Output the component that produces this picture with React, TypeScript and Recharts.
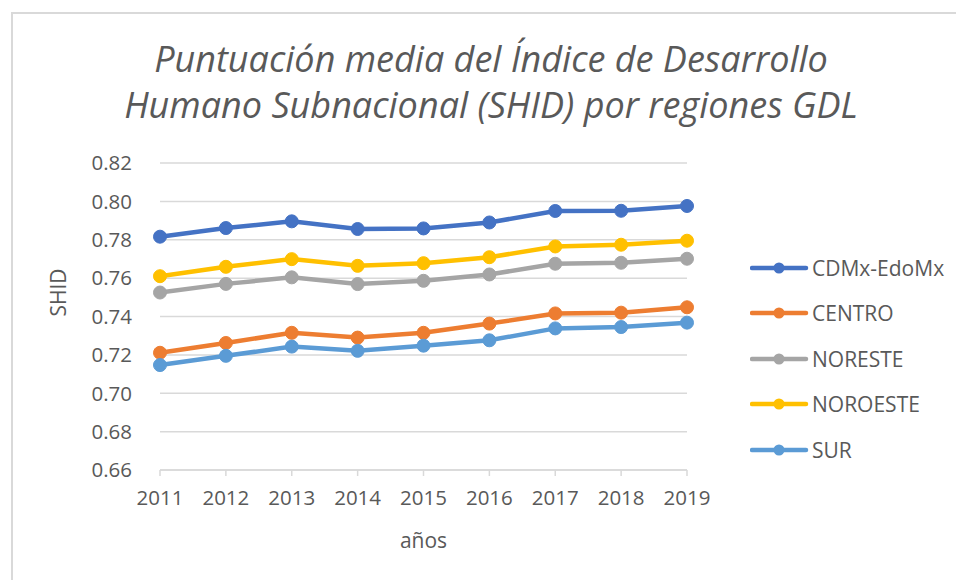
import { LineChart, Line, XAxis, YAxis, CartesianGrid } from "recharts";

const years = ["2011", "2012", "2013", "2014", "2015", "2016", "2017", "2018", "2019"];
const cdmx = [0.7816, 0.7861, 0.7896, 0.7856, 0.7859, 0.789, 0.795, 0.7951, 0.7976];
const centro = [0.7211, 0.7262, 0.7315, 0.729, 0.7315, 0.7363, 0.7416, 0.742, 0.7448];
const noreste = [0.7525, 0.757, 0.7604, 0.7569, 0.7586, 0.7619, 0.7675, 0.768, 0.7701];
const noroeste = [0.761, 0.7659, 0.7699, 0.7664, 0.7678, 0.7709, 0.7765, 0.7774, 0.7795];
const sur = [0.7147, 0.7195, 0.7243, 0.7221, 0.7248, 0.7276, 0.7338, 0.7345, 0.7368];
const yTicks = [0.66, 0.68, 0.7, 0.72, 0.74, 0.76, 0.78, 0.8, 0.82];

const series = [
  { key: "cdmx", name: "CDMx-EdoMx", color: "#4472C4", values: cdmx },
  { key: "centro", name: "CENTRO", color: "#ED7D31", values: centro },
  { key: "noreste", name: "NORESTE", color: "#A5A5A5", values: noreste },
  { key: "noroeste", name: "NOROESTE", color: "#FFC000", values: noroeste },
  { key: "sur", name: "SUR", color: "#5B9BD5", values: sur },
];

const data = years.map((year, i) => {
  const row: Record<string, string | number> = { year };
  series.forEach((s) => (row[s.key] = s.values[i]));
  return row;
});

const font = "'Open Sans', sans-serif";
const textColor = "#595959";
const tickStyle = { fill: textColor, fontSize: 20.5, fontFamily: font };

// legend sits to the right of the plot, like the Excel original
function LegendList() {
  return (
    <div style={{ position: "absolute", left: 750, top: 245, fontFamily: font }}>
      {series.map((s) => (
        <div key={s.key} style={{ display: "flex", alignItems: "center", height: 45.5 }}>
          <svg width={62} height={16}>
            <line x1={2} y1={8} x2={56} y2={8} stroke={s.color} strokeWidth={4.5} strokeLinecap="round" />
            <circle cx={29} cy={8} r={5.5} fill={s.color} />
          </svg>
          <span style={{ color: textColor, fontSize: 21 }}>{s.name}</span>
        </div>
      ))}
    </div>
  );
}

export default function App() {
  return (
    <div style={{ position: "absolute", left: 0, top: 0, width: 956, height: 580, background: "#fff" }}>
      <div
        style={{
          position: "absolute",
          left: 11,
          top: 12,
          width: 960,
          height: 600,
          border: "2px solid #d9d9d9",
          boxSizing: "border-box",
        }}
      />
      <div
        style={{
          position: "absolute",
          left: 0,
          top: 36,
          width: 982,
          textAlign: "center",
          fontFamily: font,
          fontStyle: "italic",
          fontSize: 36,
          lineHeight: "46px",
          color: textColor,
        }}
      >
        Puntuación media del Índice de Desarrollo
        <br />
        Humano Subnacional (SHID) por regiones GDL
      </div>
      <LineChart
        width={956}
        height={580}
        data={data}
        margin={{ top: 163, right: 269, bottom: 30, left: 40 }}
        style={{ position: "absolute", left: 0, top: 0 }}
      >
        <CartesianGrid vertical={false} stroke="#d9d9d9" strokeWidth={1.5} />
        <XAxis
          dataKey="year"
          interval={0}
          tick={tickStyle}
          stroke="#d9d9d9"
          strokeWidth={1.5}
          tickSize={6}
          tickMargin={14}
          height={80}
          label={{ value: "años", position: "insideBottom", offset: 2, fill: textColor, fontSize: 21, fontFamily: font }}
        />
        <YAxis
          domain={[0.66, 0.82]}
          ticks={yTicks}
          tickFormatter={(v: number) => v.toFixed(2)}
          tick={tickStyle}
          axisLine={false}
          tickLine={false}
          tickMargin={22}
          width={120}
          label={{ value: "SHID", angle: -90, position: "insideLeft", offset: 19, fill: textColor, fontSize: 21, fontFamily: font }}
        />
        {series.map((s) => (
          <Line
            key={s.key}
            type="linear"
            dataKey={s.key}
            name={s.name}
            stroke={s.color}
            strokeWidth={4.5}
            dot={{ r: 6.5, fill: s.color, stroke: s.color, strokeWidth: 1 }}
            activeDot={false}
            isAnimationActive={false}
          />
        ))}
      </LineChart>
      <LegendList />
    </div>
  );
}
